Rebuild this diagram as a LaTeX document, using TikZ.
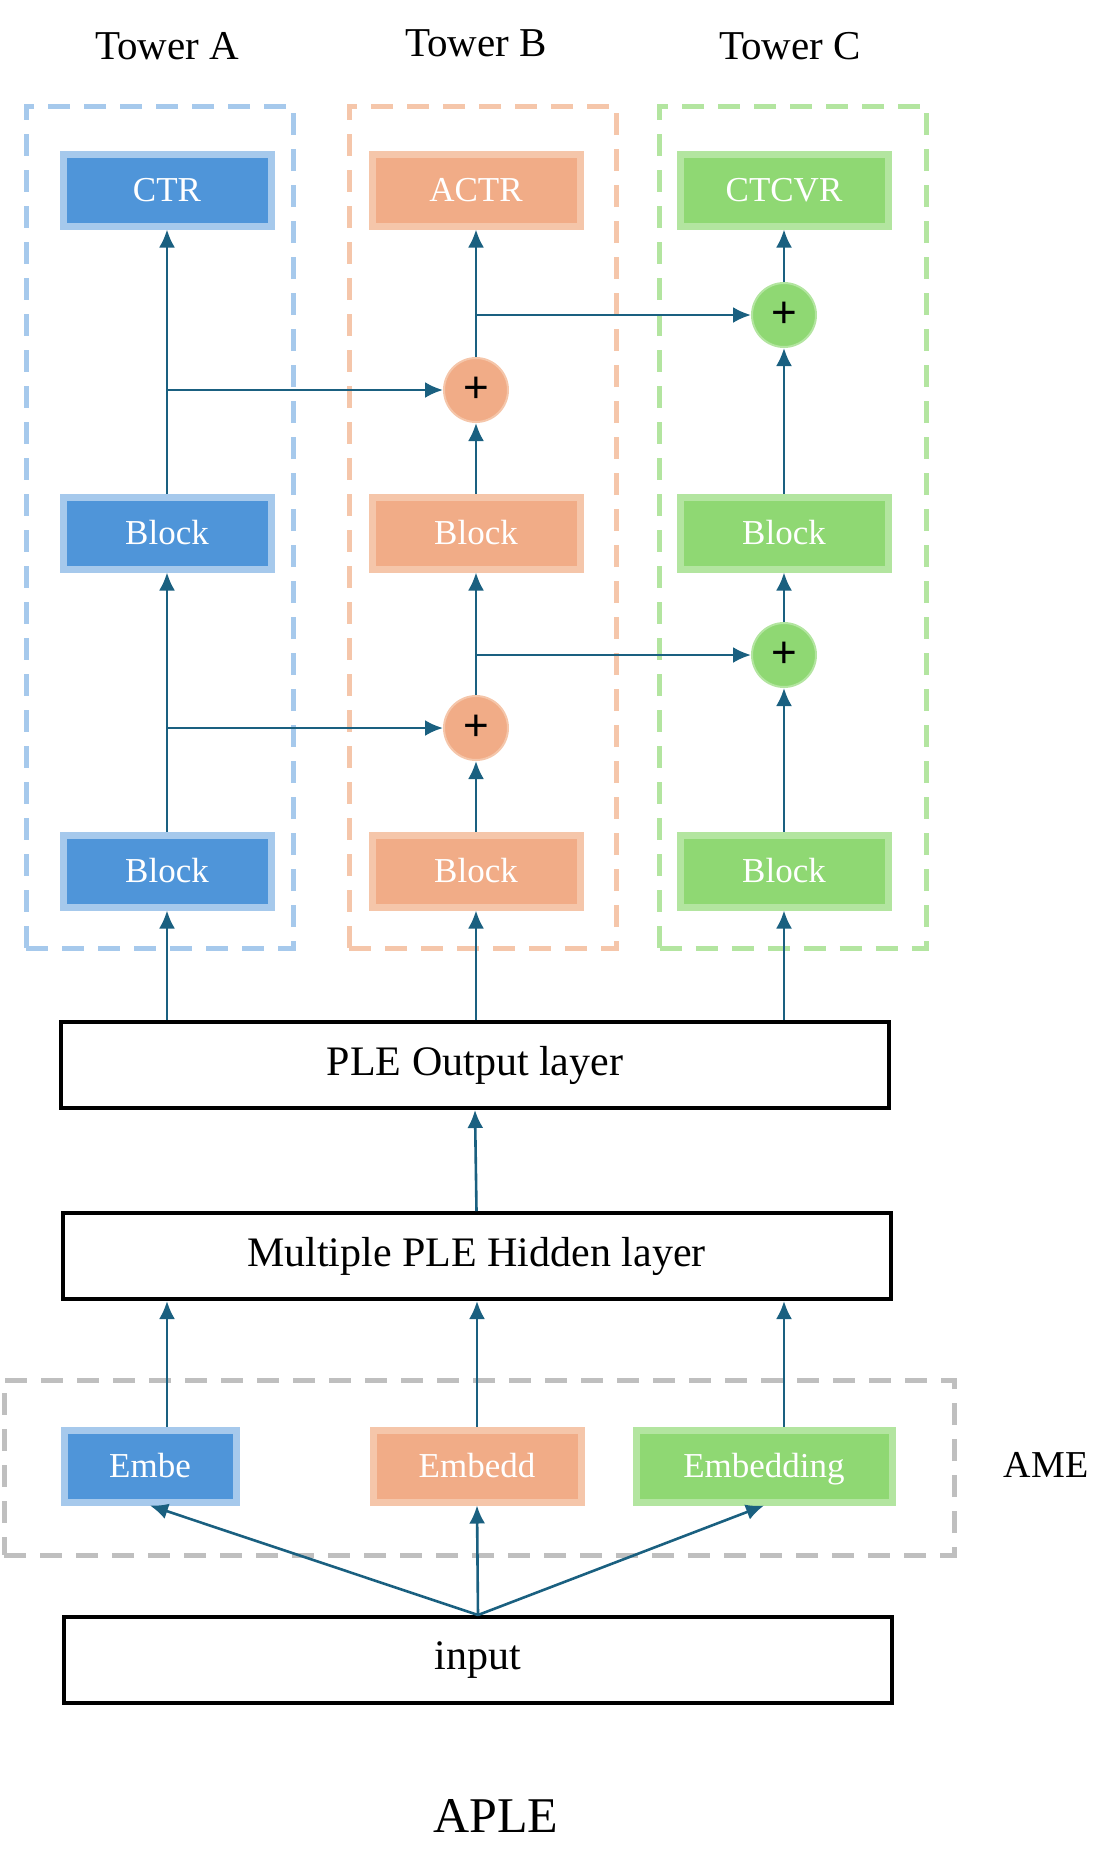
\documentclass[tikz,border=0pt]{standalone}
\usepackage{fontspec}
\setmainfont{Liberation Serif}
\newfontfamily\plusfont{Liberation Sans}
\usepackage{tikz}
\usetikzlibrary{positioning,arrows.meta,calc}

\definecolor{blueF}{HTML}{4F95D9}
\definecolor{blueL}{HTML}{A6C9EC}
\definecolor{orangeF}{HTML}{F1AC87}
\definecolor{orangeL}{HTML}{F5C6AA}
\definecolor{greenF}{HTML}{8FD873}
\definecolor{greenL}{HTML}{B3E5A0}
\definecolor{grayL}{HTML}{BFBFBF}
\definecolor{flowC}{RGB}{26,96,128}

\begin{document}
\begin{tikzpicture}[
    x=0.5pt, y=-0.5pt,
    >=Latex,
    flow/.style={->, draw=flowC, line width=1.3pt, >={Latex[length=9pt,width=8pt]}},
    group/.style={
        rectangle,
        draw,
        dash pattern=on 11pt off 7pt,
        line width=2.5pt,
        inner sep=0pt
    },
    blk/.style={
        rectangle,
        line width=3.5pt,
        minimum width=104pt,
        minimum height=36pt,
        inner sep=0pt,
        text height=11pt,
        text depth=0pt,
        text=white,
        font=\fontsize{17.5}{20}\selectfont
    },
    layer/.style={
        rectangle,
        draw=black,
        line width=2pt,
        minimum width=414pt,
        minimum height=43pt,
        inner sep=0pt,
        font=\fontsize{21}{24}\selectfont
    },
    plus/.style={
        circle,
        line width=1pt,
        minimum size=32pt,
        inner sep=0pt,
        font=\plusfont\fontsize{22}{24}\selectfont
    },
    tower/.style={font=\fontsize{20.5}{24}\selectfont}
]
\useasboundingbox (0,0) rectangle (1116,1870);

% towers
\node[tower] (twA) at (167,46) {Tower A};
\node[tower] (twB) at (476,43) {Tower B};
\node[tower] (twC) at (790,46) {Tower C};

\node[group, draw=blueL, minimum width=133.5pt, minimum height=421pt] (grpA) at (159.5,527) {};
\node[group, draw=orangeL, minimum width=133.5pt, minimum height=421pt] (grpB) at (482.5,527) {};
\node[group, draw=greenL, minimum width=133.5pt, minimum height=421pt] (grpC) at (793,527) {};

% tower A
\node[blk, fill=blueF, draw=blueL] (ctr) at (167,190) {CTR};
\node[blk, fill=blueF, draw=blueL] (blkA1) at (167,533) {Block};
\node[blk, fill=blueF, draw=blueL] (blkA2) at (167,871) {Block};

% tower B
\node[blk, fill=orangeF, draw=orangeL] (actr) at (476,190) {ACTR};
\node[plus, fill=orangeF, draw=orangeL] (plusB1) at (476,390) {+};
\node[blk, fill=orangeF, draw=orangeL] (blkB1) at (476,533) {Block};
\node[plus, fill=orangeF, draw=orangeL] (plusB2) at (476,728) {+};
\node[blk, fill=orangeF, draw=orangeL] (blkB2) at (476,871) {Block};

% tower C
\node[blk, fill=greenF, draw=greenL] (ctcvr) at (784,190) {CTCVR};
\node[plus, fill=greenF, draw=greenL] (plusC1) at (784,315) {+};
\node[blk, fill=greenF, draw=greenL] (blkC1) at (784,533) {Block};
\node[plus, fill=greenF, draw=greenL] (plusC2) at (784,655) {+};
\node[blk, fill=greenF, draw=greenL] (blkC2) at (784,871) {Block};

% shared layers
\node[layer] (pleout) at (475,1065) {PLE Output layer};
\node[layer] (hidden) at (476.5,1256) {Multiple PLE Hidden layer};
\node[layer] (input) at (478,1660) {input};

\node[group, draw=grayL, minimum width=475pt, minimum height=87.5pt] (ame) at (479,1467.5) {};
\node[blk, fill=blueF, draw=blueL, minimum width=86pt] (embA) at (150,1466) {Embe};
\node[blk, fill=orangeF, draw=orangeL] (embB) at (477,1466) {Embedd};
\node[blk, fill=greenF, draw=greenL, minimum width=128pt] (embC) at (764,1466) {Embedding};
\node[font=\fontsize{19}{22}\selectfont] (ameL) at (1046,1465) {AME};

\node[font=\fontsize{25}{28}\selectfont] (aple) at (496,1816) {APLE};

% connectors
\draw[flow] (blkA2) -- (blkA1);
\draw[flow] (blkA1) -- (ctr);
\draw[flow] (blkA1 |- plusB2) -- (plusB2);
\draw[flow] (blkA1 |- plusB1) -- (plusB1);

\draw[flow] (blkB2) -- (plusB2);
\draw[flow] (plusB2) -- (blkB1);
\draw[flow] (blkB1) -- (plusB1);
\draw[flow] (plusB1) -- (actr);
\draw[flow] (blkB1 |- plusC2) -- (plusC2);
\draw[flow] (actr |- plusC1) -- (plusC1);

\draw[flow] (blkC2) -- (plusC2);
\draw[flow] (plusC2) -- (blkC1);
\draw[flow] (blkC1) -- (plusC1);
\draw[flow] (plusC1) -- (ctcvr);

\draw[flow] (pleout.north -| blkA2) -- (blkA2);
\draw[flow] (pleout.north -| blkB2) -- (blkB2);
\draw[flow] (pleout.north -| blkC2) -- (blkC2);
\draw[flow] (hidden.north) -- (pleout.south);

\draw[flow] (embA.north -| blkA2) -- (hidden.south -| blkA2);
\draw[flow] (embB.north) -- (hidden.south -| embB);
\draw[flow] (embC.north -| blkC2) -- (hidden.south -| blkC2);

\draw[flow] (input.north) -- (embA.south);
\draw[flow] (input.north) -- (embB.south);
\draw[flow] (input.north) -- (embC.south);

\end{tikzpicture}
\end{document}
